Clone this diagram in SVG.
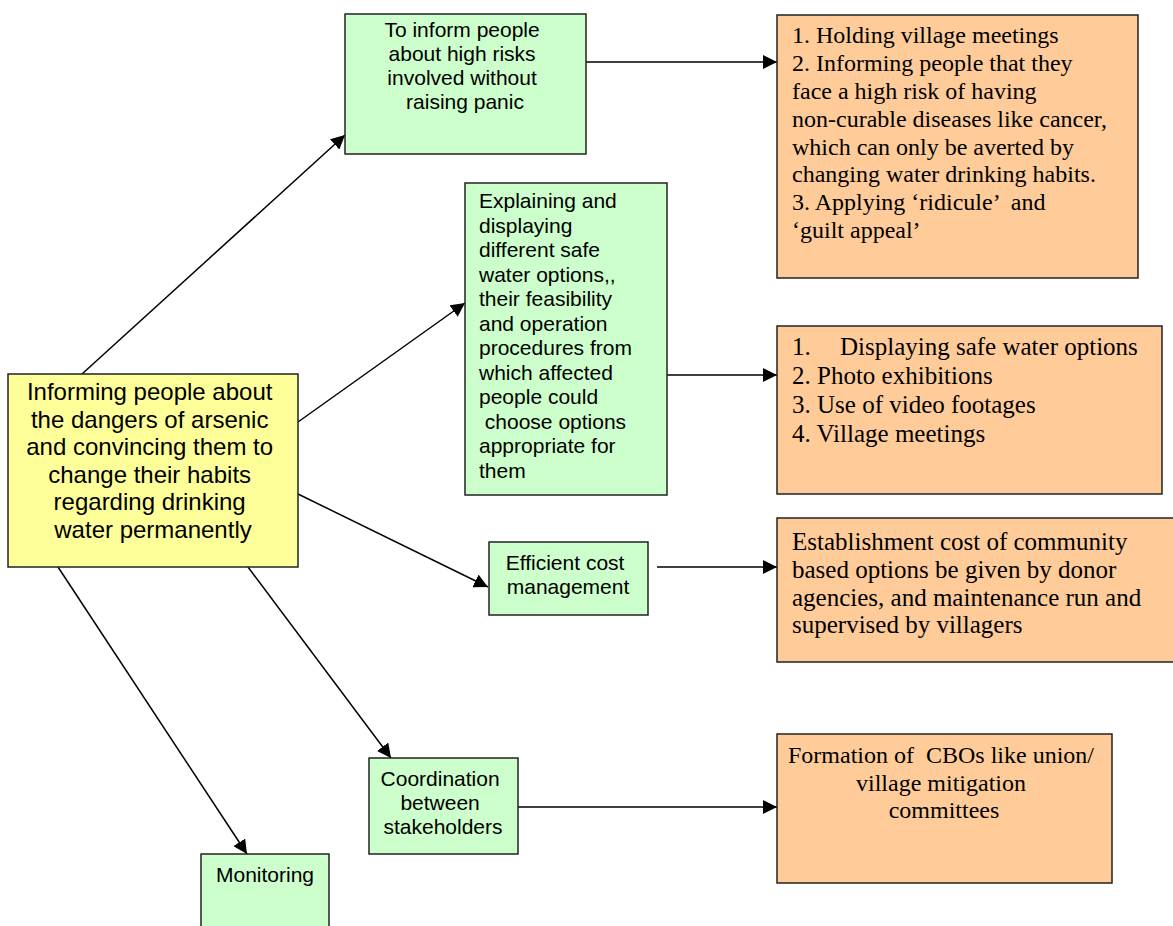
<svg xmlns="http://www.w3.org/2000/svg" width="1173" height="926" viewBox="0 0 1173 926">
<defs>
<style>
.box{stroke:#222;stroke-width:1.5}
.g{fill:#CCFFCC}
.y{fill:#FFFF99}
.o{fill:#FFCC99}
.a{font-family:"Liberation Sans",Arial,sans-serif;fill:#000}
.t{font-family:"Liberation Serif","Times New Roman",serif;fill:#000;font-size:24px}
.c{stroke:#000;stroke-width:1.5;fill:none;marker-end:url(#ah)}
</style>
<marker id="ah" viewBox="0 0 10 10" refX="10" refY="5" markerWidth="14" markerHeight="14" markerUnits="userSpaceOnUse" orient="auto">
<path d="M0,0 L10,5 L0,10 z" fill="#000"/>
</marker>
</defs>
<rect width="1173" height="926" fill="#fff"/>

<g id="connectors">
<line class="c" x1="82" y1="374" x2="345" y2="135"/>
<line class="c" x1="298" y1="422" x2="465" y2="303"/>
<line class="c" x1="298" y1="494" x2="488" y2="587"/>
<line class="c" x1="248" y1="567" x2="391" y2="758"/>
<line class="c" x1="58" y1="567" x2="247" y2="854"/>
<line class="c" x1="586" y1="62" x2="777" y2="62"/>
<line class="c" x1="657" y1="375" x2="777" y2="375"/>
<line class="c" x1="657" y1="567" x2="777" y2="567"/>
<line class="c" x1="513" y1="807" x2="777" y2="807"/>
</g>

<g id="main">
<rect class="box y" x="8" y="374" width="290" height="193"/>
<text class="a" font-size="24" text-anchor="middle">
<tspan x="153" y="400">Informing people about</tspan>
<tspan x="153" y="427.5">the dangers of arsenic</tspan>
<tspan x="153" y="455">and convincing them to</tspan>
<tspan x="153" y="482.5">change their habits</tspan>
<tspan x="153" y="510">regarding drinking</tspan>
<tspan x="153" y="537.5">water permanently</tspan>
</text>
</g>

<g id="inform">
<rect class="box g" x="345" y="14" width="241" height="140"/>
<text class="a" font-size="21" text-anchor="middle">
<tspan x="465" y="37">To inform people</tspan>
<tspan x="465" y="61">about high risks</tspan>
<tspan x="465" y="85">involved without</tspan>
<tspan x="465" y="109">raising panic</tspan>
</text>
</g>

<g id="explain">
<rect class="box g" x="465" y="183" width="202" height="312"/>
<text class="a" font-size="21">
<tspan x="479" y="208">Explaining and</tspan>
<tspan x="479" y="232.5">displaying</tspan>
<tspan x="479" y="257">different safe</tspan>
<tspan x="479" y="281.5">water options,,</tspan>
<tspan x="479" y="306">their feasibility</tspan>
<tspan x="479" y="330.5">and operation</tspan>
<tspan x="479" y="355">procedures from</tspan>
<tspan x="479" y="379.5">which affected</tspan>
<tspan x="479" y="404">people could</tspan>
<tspan x="479" y="428.5" xml:space="preserve"> choose options</tspan>
<tspan x="479" y="453">appropriate for</tspan>
<tspan x="479" y="477.5">them</tspan>
</text>
</g>

<g id="cost">
<rect class="box g" x="489" y="542" width="159" height="73"/>
<text class="a" font-size="21" text-anchor="middle">
<tspan x="568" y="570">Efficient cost</tspan>
<tspan x="568" y="594">management</tspan>
</text>
</g>

<g id="coord">
<rect class="box g" x="369" y="758" width="149" height="96"/>
<text class="a" font-size="21" text-anchor="middle">
<tspan x="443" y="786">Coordination</tspan>
<tspan x="443" y="810">between</tspan>
<tspan x="443" y="834">stakeholders</tspan>
</text>
</g>

<g id="monitor">
<rect class="box g" x="201" y="854" width="128" height="80"/>
<text class="a" font-size="21" text-anchor="middle" x="265" y="882">Monitoring</text>
</g>

<g id="o1">
<rect class="box o" x="777" y="15" width="361" height="263"/>
<text class="t">
<tspan x="792" y="43">1. Holding village meetings</tspan>
<tspan x="792" y="71">2. Informing people that they</tspan>
<tspan x="792" y="99">face a high risk of having</tspan>
<tspan x="792" y="127">non-curable diseases like cancer,</tspan>
<tspan x="792" y="155">which can only be averted by</tspan>
<tspan x="792" y="182">changing water drinking habits.</tspan>
<tspan x="792" y="210" xml:space="preserve">3. Applying ‘ridicule’  and</tspan>
<tspan x="792" y="238">‘guilt appeal’</tspan>
</text>
</g>

<g id="o2">
<rect class="box o" x="777" y="326" width="385" height="168"/>
<text class="t" font-size="25" style="font-size:25px">
<tspan x="792" y="355">1.</tspan><tspan x="840" y="355">Displaying safe water options</tspan>
<tspan x="792" y="384">2. Photo exhibitions</tspan>
<tspan x="792" y="413">3. Use of video footages</tspan>
<tspan x="792" y="442">4. Village meetings</tspan>
</text>
</g>

<g id="o3">
<rect class="box o" x="777" y="518" width="397" height="144"/>
<text class="t" style="font-size:25px">
<tspan x="792" y="550">Establishment cost of community</tspan>
<tspan x="792" y="578">based options be given by donor</tspan>
<tspan x="792" y="606">agencies, and maintenance run and</tspan>
<tspan x="792" y="633">supervised by villagers</tspan>
</text>
</g>

<g id="o4">
<rect class="box o" x="777" y="734" width="335" height="149"/>
<text class="t" text-anchor="middle">
<tspan x="944" y="763" xml:space="preserve">Formation of  CBOs like union/</tspan>
<tspan x="944" y="791">village mitigation</tspan>
<tspan x="944" y="818">committees</tspan>
</text>
</g>
</svg>
